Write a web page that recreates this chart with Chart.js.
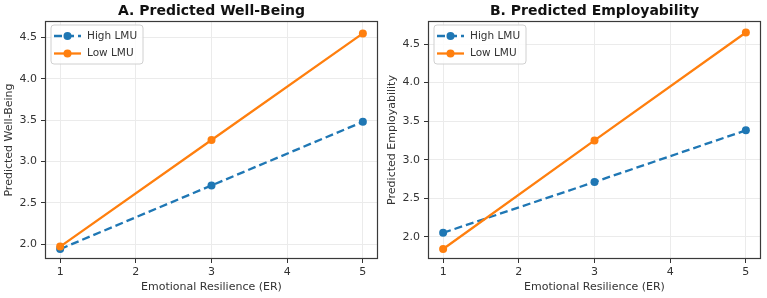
<!DOCTYPE html>
<html>
<head>
<meta charset="utf-8">
<script src="https://cdn.jsdelivr.net/npm/chart.js@4/dist/chart.umd.min.js"></script>
<style>
  body { margin: 0; background: #fff; }
  #wrap { position: relative; width: 767px; height: 298px; }
  canvas { position: absolute; top: 0; }
</style>
</head>
<body>
<div id="wrap">
  <canvas id="cnvsA" width="383" height="298" style="left:0"></canvas>
  <canvas id="cnvsB" width="384" height="298" style="left:383px"></canvas>
</div>
<script>
// values
var erLevels = [1, 3, 5];
var wellBeingHigh = [1.94, 2.71, 3.48];
var wellBeingLow = [1.97, 3.26, 4.55];
var employHigh = [2.05, 2.71, 3.38];
var employLow = [1.84, 3.25, 4.65];
var xTicks = [1, 2, 3, 4, 5];
var yTicks = [2.0, 2.5, 3.0, 3.5, 4.0, 4.5];
var seriesNames = ['High LMU', 'Low LMU'];

var BLUE = '#1f77b4', ORANGE = '#ff7f0e', INK = '#333333';
var FONT = "'DejaVu Sans', sans-serif";

function pts(ys) {
  return erLevels.map(function(x, i) { return {x: x, y: ys[i]}; });
}

// frame, title and matplotlib-like legend
var decor = {
  id: 'decor',
  beforeDatasetsDraw: function(chart) {
    var a = chart.chartArea, c = chart.ctx;
    c.save();
    c.strokeStyle = '#3a3a3a';
    c.lineWidth = 1.2;
    c.strokeRect(a.left + 0.5, a.top + 0.5, a.right - a.left - 1, a.bottom - a.top - 1);
    c.restore();
  },
  afterDatasetsDraw: function(chart, args, opts) {
    var a = chart.chartArea, c = chart.ctx;
    c.save();
    // title
    c.fillStyle = '#111';
    c.font = 'bold 14px ' + FONT;
    c.textAlign = 'center';
    c.textBaseline = 'middle';
    c.fillText(opts.title, (a.left + a.right) / 2, 11);
    // legend box
    var bx = a.left + 6, by = a.top + 4, bw = 92, bh = 39;
    c.beginPath();
    c.roundRect(bx, by, bw, bh, 3);
    c.fillStyle = 'rgba(255,255,255,0.85)';
    c.fill();
    c.strokeStyle = '#d0d0d0';
    c.lineWidth = 1;
    c.stroke();
    chart.data.datasets.slice().sort(function(p, q) { return q.order - p.order; }).forEach(function(ds, i) {
      var y = by + 11 + i * 17.5;
      c.beginPath();
      c.setLineDash(ds.borderDash || []);
      c.strokeStyle = ds.borderColor;
      c.lineWidth = 2.3;
      c.moveTo(bx + 3, y);
      c.lineTo(bx + 30, y);
      c.stroke();
      c.setLineDash([]);
      c.beginPath();
      c.arc(bx + 16.5, y, 4, 0, Math.PI * 2);
      c.fillStyle = ds.borderColor;
      c.fill();
      c.fillStyle = INK;
      c.font = '10.5px ' + FONT;
      c.textAlign = 'left';
      c.fillText(ds.label, bx + 36, y);
    });
    c.restore();
  }
};

function makeChart(id, title, yLabel, high, low, yMin, yMax, padRight) {
  return new Chart(document.getElementById(id).getContext('2d'), {
    type: 'line',
    data: {
      datasets: [
        {label: seriesNames[0], data: pts(high), borderColor: BLUE, backgroundColor: BLUE,
         borderDash: [8, 4], borderWidth: 2.3, pointRadius: 4, pointBorderWidth: 0, order: 1},
        {label: seriesNames[1], data: pts(low), borderColor: ORANGE, backgroundColor: ORANGE,
         borderWidth: 2.3, pointRadius: 4, pointBorderWidth: 0, order: 0}
      ]
    },
    options: {
      responsive: false,
      animation: false,
      devicePixelRatio: 1,
      layout: {padding: {top: 21, right: padRight, left: 0, bottom: 0}},
      plugins: {
        legend: {display: false},
        tooltip: {enabled: false},
        decor: {title: title}
      },
      scales: {
        x: {
          type: 'linear', min: 0.8, max: 5.2,
          afterBuildTicks: function(s) { s.ticks = xTicks.map(function(v) { return {value: v}; }); },
          afterFit: function(s) { s.height = 39; },
          grid: {color: '#ebebeb', tickColor: INK, tickLength: 4},
          border: {display: false},
          ticks: {color: INK, padding: 3, font: {family: FONT, size: 11}},
          title: {display: true, text: 'Emotional Resilience (ER)', color: INK,
                  font: {family: FONT, size: 11}, padding: {top: 0, bottom: 4}}
        },
        y: {
          min: yMin, max: yMax,
          afterBuildTicks: function(s) { s.ticks = yTicks.map(function(v) { return {value: v}; }); },
          afterFit: function(s) { s.width = 45; },
          grid: {color: '#ebebeb', tickColor: INK, tickLength: 4},
          border: {display: false},
          ticks: {color: INK, padding: 4, font: {family: FONT, size: 11},
                  callback: function(v) { return v.toFixed(1); }},
          title: {display: true, text: yLabel, color: INK,
                  font: {family: FONT, size: 11}, padding: {top: 3, bottom: 0}}
        }
      }
    },
    plugins: [decor]
  });
}

makeChart('cnvsA', 'A. Predicted Well-Being', 'Predicted Well-Being', wellBeingHigh, wellBeingLow, 1.82, 4.70, 5);
makeChart('cnvsB', 'B. Predicted Employability', 'Predicted Employability', employHigh, employLow, 1.71, 4.80, 6);
</script>
</body>
</html>
